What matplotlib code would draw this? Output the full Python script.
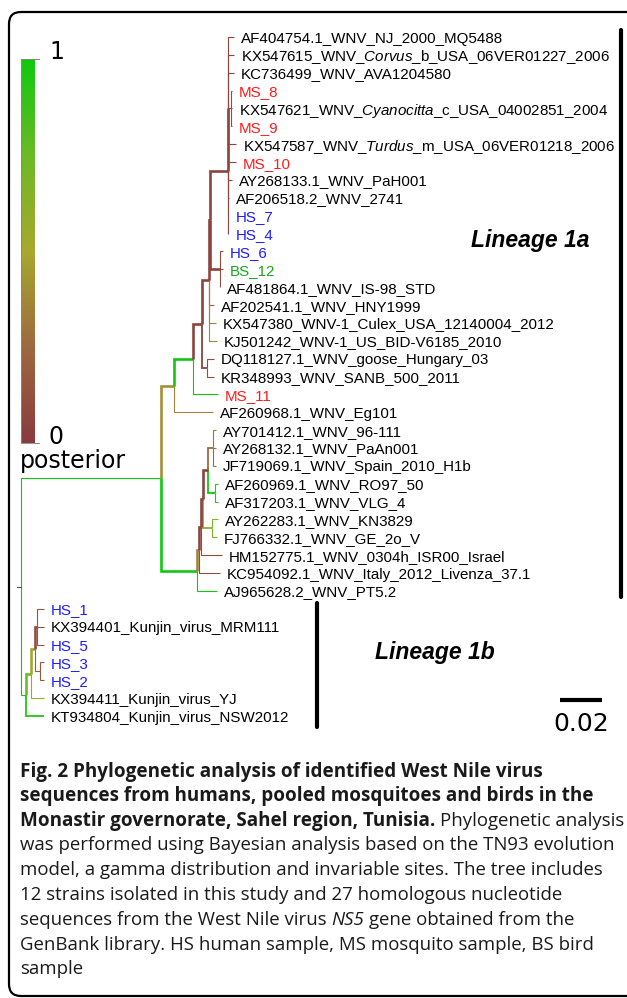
import matplotlib

matplotlib.use("Agg")

import matplotlib.pyplot as plt
import numpy as np
from matplotlib.colors import LinearSegmentedColormap
from matplotlib.patches import FancyBboxPatch

plt.rcParams["mathtext.fontset"] = "custom"
plt.rcParams["mathtext.rm"] = "Liberation Sans"
plt.rcParams["mathtext.it"] = "Liberation Sans:italic"

# ---- tree data (tips top to bottom, depth = divergence from root) ----
tip_names = [
    "AF404754.1_WNV_NJ_2000_MQ5488",
    "KX547615_WNV_*Corvus*_b_USA_06VER01227_2006",
    "KC736499_WNV_AVA1204580",
    "MS_8",
    "KX547621_WNV_*Cyanocitta*_c_USA_04002851_2004",
    "MS_9",
    "KX547587_WNV_*Turdus*_m_USA_06VER01218_2006",
    "MS_10",
    "AY268133.1_WNV_PaH001",
    "AF206518.2_WNV_2741",
    "HS_7",
    "HS_4",
    "HS_6",
    "BS_12",
    "AF481864.1_WNV_IS-98_STD",
    "AF202541.1_WNV_HNY1999",
    "KX547380_WNV-1_Culex_USA_12140004_2012",
    "KJ501242_WNV-1_US_BID-V6185_2010",
    "DQ118127.1_WNV_goose_Hungary_03",
    "KR348993_WNV_SANB_500_2011",
    "MS_11",
    "AF260968.1_WNV_Eg101",
    "AY701412.1_WNV_96-111",
    "AY268132.1_WNV_PaAn001",
    "JF719069.1_WNV_Spain_2010_H1b",
    "AF260969.1_WNV_RO97_50",
    "AF317203.1_WNV_VLG_4",
    "AY262283.1_WNV_KN3829",
    "FJ766332.1_WNV_GE_2o_V",
    "HM152775.1_WNV_0304h_ISR00_Israel",
    "KC954092.1_WNV_Italy_2012_Livenza_37.1",
    "AJ965628.2_WNV_PT5.2",
    "HS_1",
    "KX394401_Kunjin_virus_MRM111",
    "HS_5",
    "HS_3",
    "HS_2",
    "KX394411_Kunjin_virus_YJ",
    "KT934804_Kunjin_virus_NSW2012",
]
tip_parent = [
    "D1", "D1", "D1", "C1", "C1", "C1", "D1", "D1", "D1", "D", "D", "D",
    "H", "H", "H", "N", "N", "N", "K", "K", "L", "B",
    "R", "R", "R", "V", "V", "U", "U", "Q2", "Q", "P",
    "K4", "K4", "K4", "K5", "K5", "K2", "K1",
]
tip_depth = [
    0.1014, 0.1014, 0.1014, 0.1005, 0.1005, 0.1005, 0.1024, 0.1024, 0.1005,
    0.0990, 0.0988, 0.0988, 0.0962, 0.0962, 0.0948, 0.0919, 0.0929, 0.0933,
    0.0919, 0.0919, 0.0938, 0.0914, 0.0929, 0.0929, 0.0929, 0.0938, 0.0938,
    0.0938, 0.0933, 0.0957, 0.0948, 0.0933,
    0.0110, 0.0110, 0.0110, 0.0110, 0.0110, 0.0110, 0.0110,
]
tip_posterior = [
    0.05, 0.05, 0.05, 0.1, 0.05, 0.1, 0.05, 0.05, 0.05, 0.05, 0.05, 0.05,
    0.1, 0.1, 0.1, 0.2, 0.35, 0.35, 0.1, 0.1, 1.0, 0.35,
    0.3, 0.25, 0.25, 0.95, 0.95, 0.7, 0.7, 0.1, 0.1, 1.0,
    0.15, 0.1, 0.15, 0.15, 0.15, 0.6, 0.95,
]

node_names = ["root", "A", "B", "L", "J", "N", "I", "D", "D1", "C1", "H", "K",
              "P", "Q", "Q2", "T", "S", "R", "V", "U",
              "K1", "K2", "K3", "K4", "K5"]
node_parent = [None, "root", "A", "B", "L", "J", "N", "I", "D", "D1", "I", "J",
               "A", "P", "Q", "Q2", "T", "S", "S", "T",
               "root", "K1", "K2", "K3", "K3"]
node_depth = [0.0, 0.0667, 0.0729, 0.0819, 0.0862, 0.0895, 0.0900, 0.0986,
              0.0987, 0.1000, 0.0948, 0.0886,
              0.0838, 0.0848, 0.0857, 0.0867, 0.0890, 0.0914, 0.0924, 0.0910,
              0.0024, 0.0048, 0.0067, 0.0076, 0.0090]
node_posterior = [1.0, 1.0, 0.4, 1.0, 0.05, 0.05, 0.05, 0.05, 0.05, 0.05, 0.05, 0.05,
                  1.0, 0.35, 0.05, 0.05, 0.05, 0.25, 1.0, 0.65,
                  1.0, 0.75, 0.55, 0.1, 0.2]

lineages = [("Lineage 1a", 0, 31), ("Lineage 1b", 32, 38)]
scale_length = 0.02

caption = [
    [("Fig. 2 Phylogenetic analysis of identified West Nile virus", "bold")],
    [("sequences from humans, pooled mosquitoes and birds in the", "bold")],
    [("Monastir governorate, Sahel region, Tunisia.", "bold"), (" ", None),
     ("Phylogenetic analysis", "normal")],
    [("was performed using Bayesian analysis based on the TN93 evolution", "normal")],
    [("model, a gamma distribution and invariable sites. The tree includes", "normal")],
    [("12 strains isolated in this study and 27 homologous nucleotide", "normal")],
    [("sequences from the West Nile virus", "normal"), (" ", None), ("NS5", "italic"),
     (" ", None), ("gene obtained from the", "normal")],
    [("GenBank library. HS human sample, MS mosquito sample, BS bird", "normal")],
    [("sample", "normal")],
]

# ---- layout ----
W, H = 627, 998
ROOT_PX, PX_PER_UNIT = 21, 2100
TIP0_PX, TIP_STEP = 37, 17.87

cmap = LinearSegmentedColormap.from_list(
    "posterior",
    [(0.0, "#8a3a3e"), (0.25, "#9c6a40"), (0.5, "#a8a82e"), (0.75, "#6cba26"), (1.0, "#10c810")],
)
THICK = {"B", "L", "J", "N", "I", "D", "D1", "H", "P", "Q", "Q2", "T", "S", "K2", "K3", "K4"}
MEDIUM = {"K", "R", "V", "U", "t38"}

fig = plt.figure(figsize=(W / 100, H / 100), dpi=100)
pax = fig.add_axes([0, 0, 1, 1])
pax.set_xlim(0, W)
pax.set_ylim(H, 0)
pax.set_autoscale_on(False)
pax.axis("off")
tax = fig.add_axes([0, 0, 1, 1])
tax.set_xlim(-ROOT_PX / PX_PER_UNIT, (W - ROOT_PX) / PX_PER_UNIT)
tax.set_ylim((H - TIP0_PX) / TIP_STEP, -TIP0_PX / TIP_STEP)
tax.set_autoscale_on(False)
tax.axis("off")
tax.patch.set_alpha(0)
renderer = fig.canvas.get_renderer()

# build tree
parent = dict(zip(node_names, node_parent))
depth = dict(zip(node_names, node_depth))
post = dict(zip(node_names, node_posterior))
ypos = {}
for i in range(len(tip_names)):
    key = f"t{i}"
    parent[key] = tip_parent[i]
    depth[key] = tip_depth[i]
    post[key] = tip_posterior[i]
    ypos[key] = i
children = {n: [] for n in node_names}
for key, p in parent.items():
    if p is not None:
        children[p].append(key)


def node_y(n):
    if n not in ypos:
        ys = [node_y(c) for c in children[n]]
        ypos[n] = (min(ys) + max(ys)) / 2
    return ypos[n]


node_y("root")

order = sorted([k for k in parent if parent[k] is not None],
               key=lambda k: (k in THICK) * 2 + (k in MEDIUM))
for key in order:
    p = parent[key]
    lw = 1.9 if key in THICK else (1.3 if key in MEDIUM else 0.8)
    tax.plot([depth[p], depth[p], depth[key]], [ypos[p], ypos[key], ypos[key]],
             color=cmap(post[key]), lw=lw, solid_capstyle="butt", solid_joinstyle="miter")
tax.plot([-0.0018, 0], [ypos["root"]] * 2, color="#555555", lw=0.8)


def space_width(**props):
    a = pax.text(0, 0, "x x", **props)
    b = pax.text(0, 0, "xx", **props)
    w = a.get_window_extent(renderer).width - b.get_window_extent(renderer).width
    a.remove()
    b.remove()
    return w


def put_runs(x, y, runs, sizes, **props):
    for text, style in runs:
        if text == " ":
            x += space_width(fontsize=sizes["normal"], **props)
            continue
        extra = {"fontweight": "bold"} if style == "bold" else {}
        if style == "italic":
            extra = {"fontstyle": "italic"}
        t = pax.text(x, y, text, ha="left", va="center_baseline",
                     fontsize=sizes[style], **props, **extra)
        x += t.get_window_extent(renderer).width


# tip labels
for i, name in enumerate(tip_names):
    colour = "black"
    if name.startswith("MS_"):
        colour = "#ff1c1c"
    elif name.startswith("HS_"):
        colour = "#1c1cff"
    elif name.startswith("BS_"):
        colour = "#1aa81a"
    parts = name.split("*")
    label = "".join(r"$\mathit{" + s + "}$" if k % 2 else s for k, s in enumerate(parts))
    tax.annotate(label, (tip_depth[i], i), xytext=(5.0, 0), textcoords="offset points",
                 fontsize=10.9, family="Liberation Sans", color=colour,
                 ha="left", va="center_baseline")

# lineage bars
bar_x = [0.2857, 0.1410]
pads = [(-0.4, 0.34), (-0.33, 0.6)]
label_pos = [(0.2143, 11.36), (0.1686, 34.47)]
for (label, first, last), bx, (pa, pb), (lx, ly) in zip(lineages, bar_x, pads, label_pos):
    tax.plot([bx, bx], [first + pa, last + pb], color="black", lw=3.0, solid_capstyle="round")
    tax.text(lx, ly, label, fontsize=16.5, family="Liberation Sans", fontweight="bold",
             fontstyle="italic", va="center", ha="left")

# scale bar
sx, sy = 0.2567, 37.1
tax.plot([sx, sx + scale_length], [sy, sy], color="black", lw=3.0, solid_capstyle="butt")
tax.text(sx + scale_length / 2, sy + 1.35, f"{scale_length:.2f}", fontsize=18,
         family="DejaVu Sans", ha="center", va="center")

# posterior colour bar
cax = fig.add_axes([21 / W, 1 - 443 / H, 14 / W, (443 - 59) / H])
cax.imshow(np.linspace(1, 0, 256)[:, None], cmap=cmap, aspect="auto", vmin=0, vmax=1)
cax.set_xticks([])
cax.set_yticks([])
for side, sp in cax.spines.items():
    sp.set_color("#888888")
    sp.set_linewidth(0.6)
    sp.set_visible(side in ("left", "bottom", "top"))
pax.plot([35, 39], [59, 59], color="#888888", lw=0.8)
pax.plot([35, 39], [443, 443], color="#888888", lw=0.8)
pax.text(49, 52, "1", fontsize=17, family="DejaVu Sans", va="center", ha="left")
pax.text(49, 437, "0", fontsize=17, family="DejaVu Sans", va="center", ha="left")
pax.text(20, 461, "posterior", fontsize=17, family="DejaVu Sans", va="center", ha="left")

# caption
cap_sizes = {"bold": 13.6, "normal": 13.4, "italic": 13.4}
for k, runs in enumerate(caption):
    put_runs(20, 769 + 24.8 * k, runs, cap_sizes, family="Open Sans", color="#1a1a1a")

# outer frame (right side runs off the page)
pax.add_patch(FancyBboxPatch((9, 12), 660, 984, boxstyle="round,pad=0,rounding_size=12",
                             fill=False, edgecolor="black", lw=1.6, clip_on=True))

fig.savefig("out.png", dpi=100)
